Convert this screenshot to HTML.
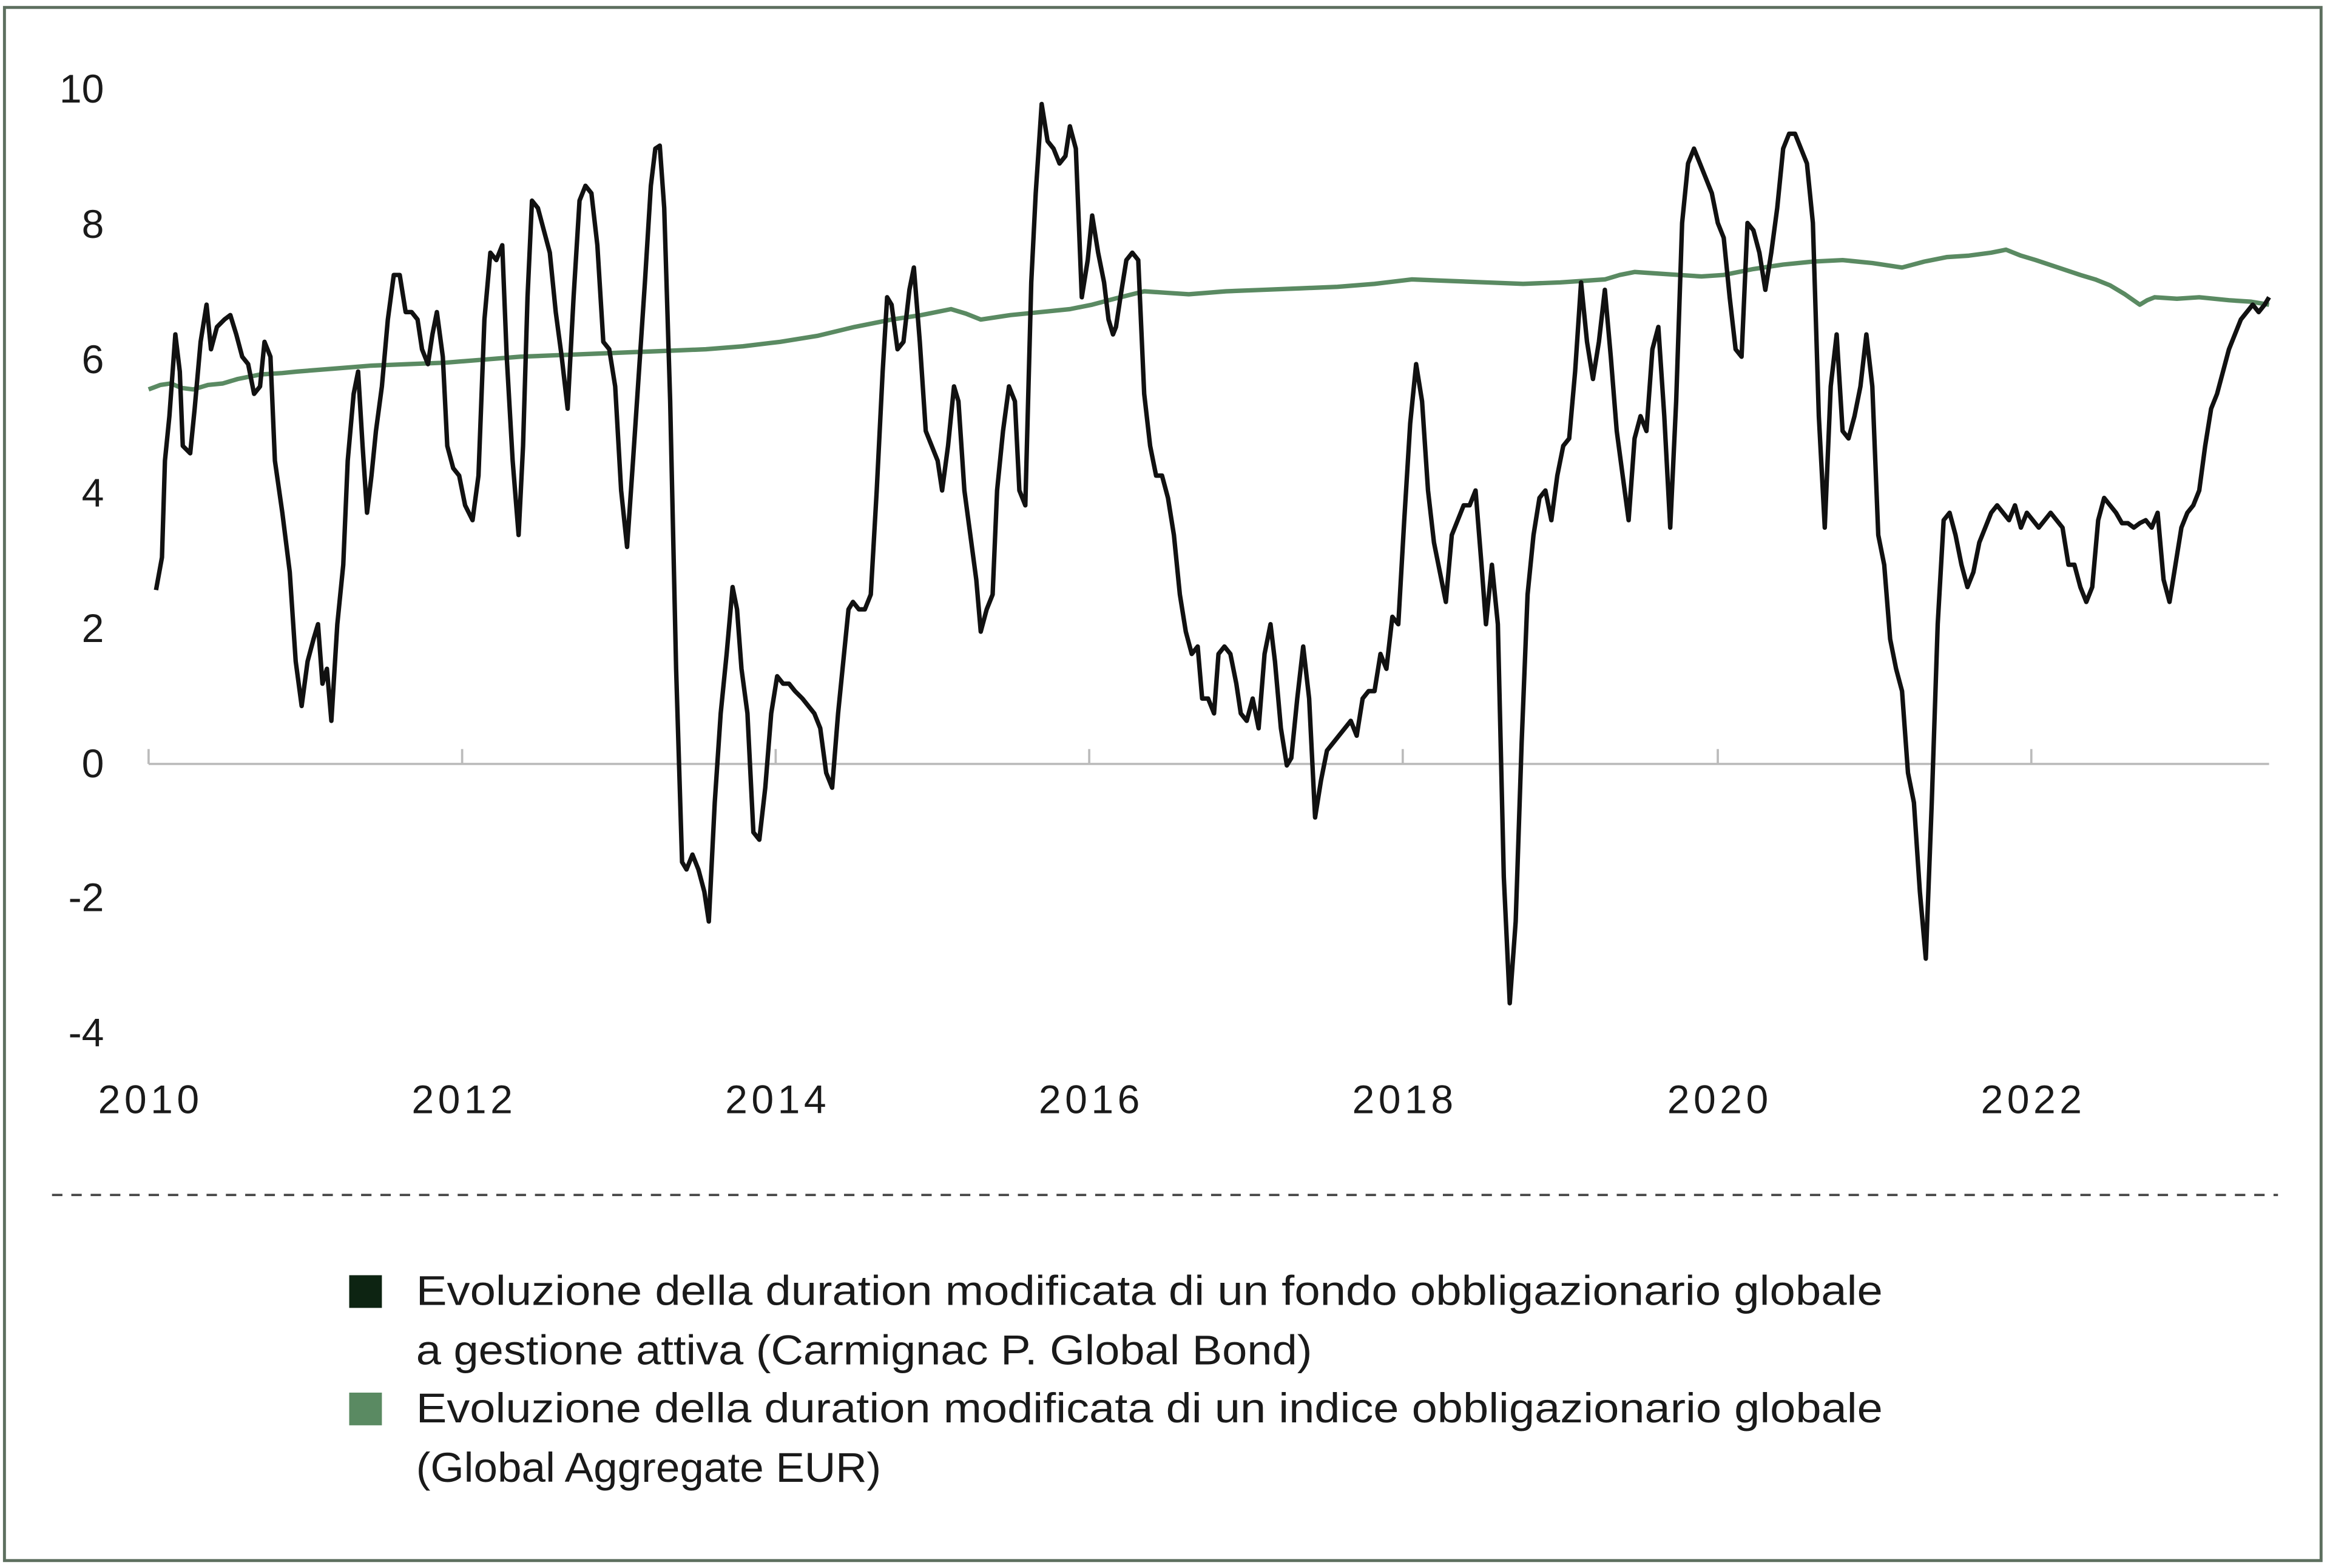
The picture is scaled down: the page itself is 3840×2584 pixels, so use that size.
<!DOCTYPE html>
<html><head><meta charset="utf-8"><style>
html,body{margin:0;padding:0;background:#fff;}
svg{display:block;}
text{font-family:"Liberation Sans","DejaVu Sans",sans-serif;fill:#1a1a1a;}
</style></head><body>
<svg width="3840" height="2584" viewBox="0 0 1568 1055" preserveAspectRatio="none" xmlns="http://www.w3.org/2000/svg">
<rect x="0" y="0" width="1568" height="1055" fill="#fff"/>
<rect x="3" y="5" width="1559" height="1045" fill="none" stroke="#5d6f5f" stroke-width="2"/>
<g font-size="27" text-anchor="end">
<text x="70" y="69">10</text>
<text x="70" y="160">8</text>
<text x="70" y="251">6</text>
<text x="70" y="341">4</text>
<text x="70" y="432">2</text>
<text x="70" y="523">0</text>
<text x="70" y="613">-2</text>
<text x="70" y="704">-4</text>
</g>
<line x1="100" y1="514" x2="1527" y2="514" stroke="#bbb" stroke-width="1.5"/>
<g stroke="#bbb" stroke-width="1.5">
<line x1="100" y1="504" x2="100" y2="514"/><line x1="311" y1="504" x2="311" y2="514"/><line x1="522" y1="504" x2="522" y2="514"/><line x1="733" y1="504" x2="733" y2="514"/><line x1="944" y1="504" x2="944" y2="514"/><line x1="1156" y1="504" x2="1156" y2="514"/><line x1="1367" y1="504" x2="1367" y2="514"/>
</g>
<g font-size="27" text-anchor="middle">
<text x="100" y="749" textLength="68">2010</text><text x="311" y="749" textLength="68">2012</text><text x="522" y="749" textLength="68">2014</text><text x="733" y="749" textLength="68">2016</text><text x="944" y="749" textLength="68">2018</text><text x="1156" y="749" textLength="68">2020</text><text x="1367" y="749" textLength="68">2022</text>
</g>
<polyline fill="none" stroke="#5a8a62" stroke-width="3" stroke-linejoin="round" points="100,262 108,259 115,258 122,261 130,262 140,259 150,258 160,255 175,252 190,251 200,250 225,248 250,246 275,245 300,244 325,242 350,240 375,239 400,238 425,237 450,236 475,235 500,233 525,230 550,226 575,220 600,215 620,212 640,208 650,211 660,215 680,212 700,210 720,208 735,205 750,201 770,196 785,197 800,198 825,196 850,195 875,194 900,193 925,191 950,188 975,189 1000,190 1025,191 1050,190 1065,189 1080,188 1090,185 1100,183 1115,184 1130,185 1145,186 1160,185 1180,181 1200,178 1220,176 1240,175 1260,177 1280,180 1295,176 1310,173 1325,172 1340,170 1350,168 1360,172 1370,175 1385,180 1400,185 1410,188 1420,192 1430,198 1440,205 1445,202 1450,200 1465,201 1480,200 1500,202 1515,203 1527,205"/>
<polyline fill="none" stroke="#111" stroke-width="3" stroke-linejoin="round" points="105,397 109,375 111,310 114,280 118,225 121,250 123,300 128,305 131,275 135,230 139,205 142,235 146,220 151,215 155,212 159,225 163,240 167,245 171,265 175,260 178,230 182,240 185,310 190,345 195,385 199,445 203,475 207,445 211,430 214,420 217,460 220,450 223,485 227,420 231,380 234,310 238,265 241,250 244,300 247,345 250,320 253,290 257,260 261,215 265,185 269,185 273,210 277,210 281,215 284,235 288,245 291,225 294,210 298,240 301,300 305,315 309,320 313,340 318,350 322,320 326,215 330,170 334,175 338,165 341,240 345,310 349,360 352,300 355,200 358,135 362,140 366,155 370,170 374,210 378,240 382,275 386,200 390,135 394,125 398,130 402,165 406,230 410,235 414,260 418,330 422,368 426,310 430,250 434,190 438,125 441,100 444,98 447,140 451,270 455,450 459,580 462,585 466,575 470,585 474,600 477,620 481,540 485,480 489,440 493,395 496,410 499,450 503,480 507,560 511,565 515,530 519,480 523,455 527,460 531,460 535,465 540,470 544,475 548,480 552,490 556,520 560,530 564,480 568,440 571,410 574,405 578,410 582,410 586,400 590,330 594,250 597,200 600,205 604,235 608,230 612,195 615,180 619,230 623,290 627,300 631,310 634,330 638,300 642,260 645,270 649,330 653,360 657,390 660,425 664,410 668,400 671,330 675,290 679,260 683,270 686,330 690,340 694,190 697,130 701,70 705,95 709,100 713,110 717,105 720,85 724,100 728,200 732,175 735,145 739,170 743,190 746,215 749,225 751,220 754,200 758,175 762,170 766,175 770,265 774,300 778,320 782,320 786,335 790,360 794,400 798,425 802,440 806,435 809,470 813,470 817,480 820,440 824,435 828,440 832,460 835,480 839,485 843,470 847,490 851,440 855,420 858,445 862,490 866,515 869,510 873,470 877,435 881,470 885,550 889,525 893,505 897,500 901,495 905,490 909,485 913,495 917,470 921,465 925,465 929,440 933,450 937,415 941,420 945,350 949,285 953,245 957,270 961,330 965,365 969,385 973,405 977,360 981,350 985,340 989,340 993,330 997,380 1000,420 1004,380 1008,420 1012,590 1016,675 1020,620 1024,500 1028,400 1032,360 1036,335 1040,330 1044,350 1048,320 1052,300 1056,295 1060,250 1064,190 1068,230 1072,255 1076,230 1080,195 1084,240 1088,290 1092,320 1096,350 1100,295 1104,280 1108,290 1112,235 1116,220 1120,280 1124,355 1128,270 1132,150 1136,110 1140,100 1144,110 1148,120 1152,130 1156,150 1160,160 1164,200 1168,235 1172,240 1176,150 1180,155 1184,170 1188,195 1192,170 1196,140 1200,100 1204,90 1208,90 1212,100 1216,110 1220,150 1224,280 1228,355 1232,260 1236,225 1240,290 1244,295 1248,280 1252,260 1256,225 1260,260 1264,360 1268,380 1272,430 1276,450 1280,465 1284,520 1288,540 1292,600 1296,645 1300,540 1304,420 1308,350 1312,345 1316,360 1320,380 1324,395 1328,385 1332,365 1336,355 1340,345 1344,340 1348,345 1352,350 1356,340 1360,355 1364,345 1368,350 1372,355 1376,350 1380,345 1384,350 1388,355 1392,380 1396,380 1400,395 1404,405 1408,395 1412,350 1416,335 1420,340 1424,345 1428,352 1432,352 1436,355 1440,352 1444,350 1448,355 1452,345 1456,390 1460,405 1464,380 1468,355 1472,345 1476,340 1480,330 1484,300 1488,275 1492,265 1496,250 1500,235 1504,225 1508,215 1512,210 1516,205 1520,210 1524,205 1527,200"/>
<line x1="35" y1="804" x2="1533" y2="804" stroke="#444" stroke-width="1.5" stroke-dasharray="7,6"/>
<rect x="235" y="858" width="22" height="22" fill="#0d2412"/>
<rect x="235" y="937" width="22" height="22" fill="#5a8a62"/>
<g font-size="28">
<text x="280" y="878" textLength="987" lengthAdjust="spacingAndGlyphs">Evoluzione della duration modificata di un fondo obbligazionario globale</text>
<text x="280" y="918" textLength="603" lengthAdjust="spacingAndGlyphs">a gestione attiva (Carmignac P. Global Bond)</text>
<text x="280" y="957" textLength="987" lengthAdjust="spacingAndGlyphs">Evoluzione della duration modificata di un indice obbligazionario globale</text>
<text x="280" y="997" textLength="313" lengthAdjust="spacingAndGlyphs">(Global Aggregate EUR)</text>
</g>
</svg>
</body></html>
